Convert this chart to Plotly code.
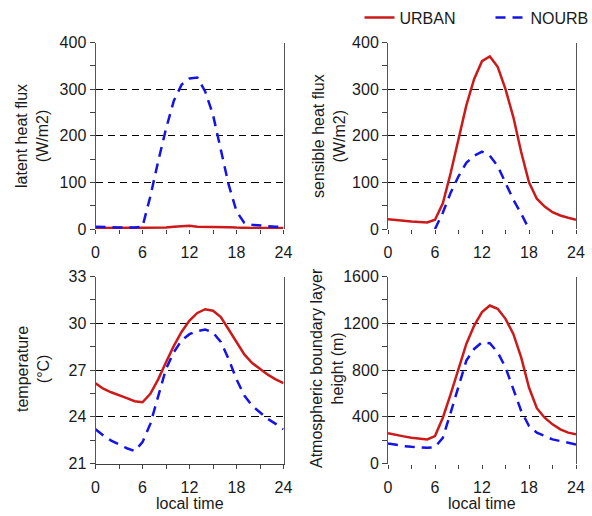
import plotly.graph_objects as go
from plotly.subplots import make_subplots

# Hour of day
hours = list(range(25))

# Latent heat flux (W/m2)
latent_urban = [2, 2, 2, 2, 2, 2, 2, 2, 3, 3, 5, 6, 7, 5, 5, 5, 5, 4, 3, 2, 2, 2, 2, 2, 2]
latent_nourb = [5, 4, 3, 3, 3, 3, 5, 70, 145, 215, 275, 310, 323, 325, 295, 245, 170, 95, 38, 13, 9, 7, 6, 5, 5]

# Sensible heat flux (W/m2)
sensible_urban = [21, 19, 17, 16, 15, 14, 20, 55, 120, 195, 265, 322, 360, 370, 348, 300, 240, 165, 100, 65, 48, 36, 29, 24, 20]
sensible_nourb = [-20, -20, -20, -20, -20, -20, 0, 35, 78, 113, 142, 157, 166, 157, 135, 97, 63, 33, 0, -20, -20, -20, -20, -20, -20]

# 2 m temperature (deg C)
temp_urban = [26.15, 25.8, 25.57, 25.36, 25.2, 25.0, 24.93, 25.47, 26.4, 27.5, 28.55, 29.46, 30.17,
              30.66, 30.9, 30.8, 30.4, 29.6, 28.8, 28.0, 27.45, 27.07, 26.7, 26.4, 26.15]
temp_nourb = [23.2, 22.8, 22.47, 22.2, 21.98, 21.8, 22.37, 23.54, 25.36, 27.07, 28.14, 28.9, 29.3,
              29.5, 29.6, 29.4, 28.8, 27.7, 26.4, 25.36, 24.7, 24.3, 23.86, 23.54, 23.2]

# Atmospheric boundary layer height (m)
abl_urban = [258, 243, 232, 220, 212, 206, 235, 392, 593, 808, 1023, 1180, 1295, 1352, 1324, 1238,
             1109, 908, 650, 473, 392, 335, 292, 264, 250]
abl_nourb = [172, 160, 149, 143, 137, 135, 140, 220, 435, 650, 880, 980, 1037, 1029, 951, 822,
             636, 450, 321, 264, 235, 206, 192, 178, 163]

x_ticks = [0, 6, 12, 18, 24]
series_names = ["URBAN", "NOURB"]

RED = "#cc1a1a"
BLUE = "#1414e6"
FONT = "Liberation Sans, Arial, sans-serif"
W, H = 592, 516

fig = make_subplots(rows=2, cols=2)

panels = [
    (1, 1, latent_urban, latent_nourb),
    (1, 2, sensible_urban, sensible_nourb),
    (2, 1, temp_urban, temp_nourb),
    (2, 2, abl_urban, abl_nourb),
]
for i, (r, c, urb, nou) in enumerate(panels):
    fig.add_trace(go.Scatter(x=hours, y=urb, mode="lines", name=series_names[0],
                             line=dict(color=RED, width=2.5), showlegend=(i == 0)),
                  row=r, col=c)
    fig.add_trace(go.Scatter(x=hours, y=nou, mode="lines", name=series_names[1],
                             line=dict(color=BLUE, width=2.5, dash="10px,7px"),
                             showlegend=(i == 0)),
                  row=r, col=c)

# panel boxes in pixels: (left, right) and (top, bottom)
left_col = (95.5, 283.5)
right_col = (388.0, 576.0)
top_row = (42.5, 229.0)
bot_row = (276.5, 463.5)


def xdom(col):
    return [col[0] / W, col[1] / W]


def ydom(row):
    return [1 - row[1] / H, 1 - row[0] / H]


boxes = {
    (1, 1): (left_col, top_row),
    (1, 2): (right_col, top_row),
    (2, 1): (left_col, bot_row),
    (2, 2): (right_col, bot_row),
}
y_specs = {
    (1, 1): dict(range=[0, 400], dtick=100, minor=50),
    (1, 2): dict(range=[0, 400], dtick=100, minor=50),
    (2, 1): dict(range=[21, 33], dtick=3, minor=1.5),
    (2, 2): dict(range=[0, 1600], dtick=400, minor=200),
}

tickfont = dict(family=FONT, size=16, color="#1a1a1a")
for (r, c), (colpx, rowpx) in boxes.items():
    spec = y_specs[(r, c)]
    fig.update_xaxes(
        row=r, col=c, domain=xdom(colpx), range=[0, 24], automargin=False,
        tickmode="array", tickvals=x_ticks, ticks="outside", ticklen=4,
        tickcolor="#404040", tickwidth=1,
        minor=dict(tickmode="linear", tick0=0, dtick=3, ticks="outside", ticklen=4,
                   tickcolor="#404040", showgrid=False),
        showgrid=False, zeroline=False,
        showline=(r == 2 and c == 1), linecolor="#404040", linewidth=1,
        tickfont=tickfont, ticklabelstandoff=5,
    )
    fig.update_yaxes(
        row=r, col=c, domain=ydom(rowpx), range=spec["range"], automargin=False,
        tickmode="linear", tick0=spec["range"][0], dtick=spec["dtick"],
        ticks="outside", ticklen=5, tickcolor="#404040", tickwidth=1,
        minor=dict(tickmode="linear", tick0=spec["range"][0], dtick=spec["minor"],
                   ticks="outside", ticklen=5, tickcolor="#404040", showgrid=False),
        showgrid=True, gridcolor="#000000", gridwidth=1.3, griddash="7px,5px",
        zeroline=False, showline=True, linecolor="#555555", linewidth=1, mirror=True,
        tickfont=tickfont,
    )

# axis titles
titles = [
    ("latent heat flux<br>(W/m2)", 32, 136),
    ("sensible heat flux<br>(W/m2)", 329, 136),
    ("temperature<br>(°C)", 33, 369),
    ("Atmospheric boundary layer<br>height (m)", 327, 368),
]
for text, px, py in titles:
    fig.add_annotation(text=text, x=px / W, y=1 - py / H, xref="paper", yref="paper",
                       showarrow=False, textangle=-90, xanchor="center", yanchor="middle",
                       font=dict(family=FONT, size=16, color="#1a1a1a"))
for px in (189.5, 482.0):
    fig.add_annotation(text="local time", x=px / W, y=1 - 503 / H, xref="paper", yref="paper",
                       showarrow=False, xanchor="center", yanchor="middle",
                       font=dict(family=FONT, size=16, color="#1a1a1a"))

fig.update_layout(
    width=W, height=H,
    margin=dict(l=0, r=0, t=0, b=0, autoexpand=False),
    paper_bgcolor="white", plot_bgcolor="white",
    font=dict(family=FONT, size=16, color="#1a1a1a"),
    legend=dict(orientation="h", x=359.5 / W, xanchor="left", y=1 - 17.7 / H, yanchor="middle",
                bgcolor="rgba(0,0,0,0)", font=dict(family=FONT, size=16, color="#1a1a1a"),
                entrywidth=86, traceorder="normal"),
)

fig.write_html("out.html")
